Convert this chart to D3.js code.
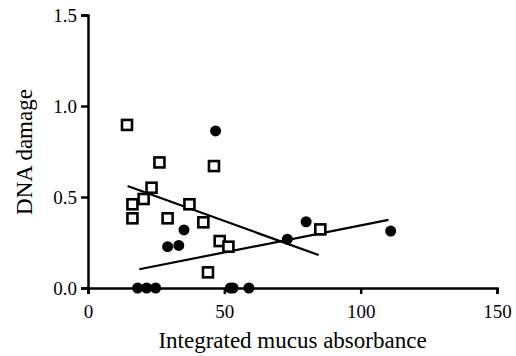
<!DOCTYPE html>
<html><head><meta charset="utf-8">
<script src="https://cdn.jsdelivr.net/npm/d3@7"></script>
<style>body{margin:0;background:#fff}svg{display:block}</style>
</head><body>
<script>
// Open squares series
const squaresX = [14.3, 26.2, 46.2, 23.3, 20.4, 16.3, 16.3, 37.2, 29.2, 42.3, 48.3, 51.5, 44.0, 85.2];
const squaresY = [0.896, 0.69, 0.67, 0.551, 0.489, 0.46, 0.383, 0.46, 0.383, 0.361, 0.258, 0.227, 0.086, 0.322];
// Filled circles series
const dotsX = [46.8, 35.2, 29.2, 33.3, 73.1, 80.0, 111.0, 18.2, 21.5, 24.8, 52.2, 53.2, 59.0];
const dotsY = [0.863, 0.319, 0.227, 0.234, 0.268, 0.364, 0.313, 0, 0, 0, 0, 0, 0];
// Regression lines (endpoints)
const squaresFitX = [14.5, 84.6];
const squaresFitY = [0.56, 0.181];
const dotsFitX = [18.8, 110.2];
const dotsFitY = [0.103, 0.374];
const xTicks = [0, 50, 100, 150];
const yTicks = [0.0, 0.5, 1.0, 1.5];

const W = 516, H = 356;
const svg = d3.select("body").append("svg").attr("width", W).attr("height", H);
const x = d3.scaleLinear().domain([0, 150]).range([88, 497]);
const y = d3.scaleLinear().domain([0, 1.5]).range([288, 15]);
const font = "'Liberation Serif', 'Times New Roman', serif";

const xa = svg.append("g").attr("transform", `translate(0,${y(0)})`)
  .call(d3.axisBottom(x).tickValues(xTicks).tickFormat(d3.format("d")).tickSizeOuter(0).tickSize(6).tickPadding(11));
const ya = svg.append("g").attr("transform", `translate(${x(0)},0)`)
  .call(d3.axisLeft(y).tickValues(yTicks).tickFormat(d3.format(".1f")).tickSizeOuter(0).tickSize(7).tickPadding(4));
[xa, ya].forEach(a => {
  a.attr("font-family", font).attr("font-size", 19);
  a.select(".domain").attr("stroke", "#000").attr("stroke-width", 2.5);
  a.selectAll(".tick line").attr("stroke", "#000").attr("stroke-width", 2.5);
  a.selectAll(".tick text").attr("fill", "#000");
});

svg.append("text").attr("x", x(75)).attr("y", 348).attr("text-anchor", "middle")
  .attr("font-family", font).attr("font-size", 23).text("Integrated mucus absorbance");
svg.append("text").attr("transform", `translate(32,152) rotate(-90)`).attr("text-anchor", "middle")
  .attr("font-family", font).attr("font-size", 23).text("DNA damage");

const line = d3.line().x(d => x(d[0])).y(d => y(d[1]));
svg.append("path").datum(d3.zip(squaresFitX, squaresFitY)).attr("d", line)
  .attr("stroke", "#000").attr("stroke-width", 2.2).attr("fill", "none");
svg.append("path").datum(d3.zip(dotsFitX, dotsFitY)).attr("d", line)
  .attr("stroke", "#000").attr("stroke-width", 2.2).attr("fill", "none");

const s = 10;
svg.append("g").selectAll("rect").data(d3.zip(squaresX, squaresY)).join("rect")
  .attr("x", d => x(d[0]) - s / 2).attr("y", d => y(d[1]) - s / 2)
  .attr("width", s).attr("height", s)
  .attr("fill", "#fff").attr("stroke", "#000").attr("stroke-width", 2.6);
svg.append("g").selectAll("circle").data(d3.zip(dotsX, dotsY)).join("circle")
  .attr("cx", d => x(d[0])).attr("cy", d => y(d[1])).attr("r", 5.5).attr("fill", "#000");
</script>
</body></html>
